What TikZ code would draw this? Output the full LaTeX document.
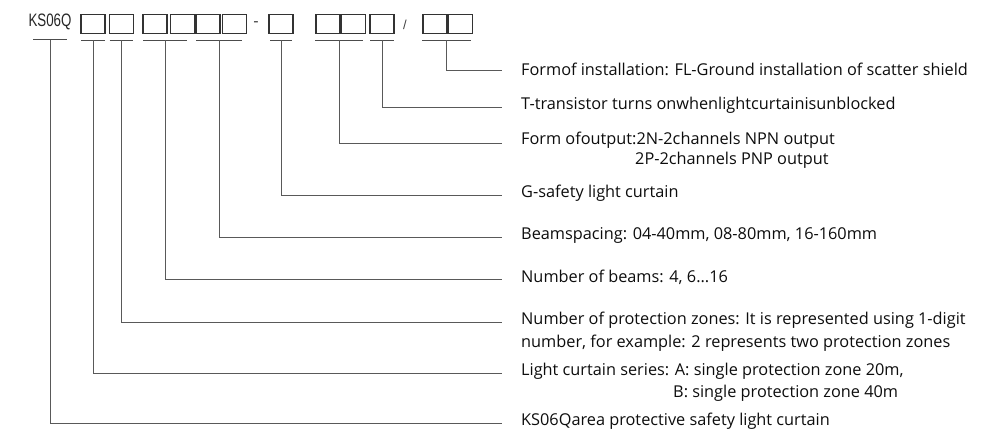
\documentclass[tikz,border=0pt]{standalone}
\usepackage{fontspec}
\setmainfont{Open Sans}
\newfontfamily\codefont{Liberation Sans}
\usetikzlibrary{positioning}

\tikzset{
  box/.style={draw=black!80,line width=1.4pt,minimum width=24pt,minimum height=19pt,inner sep=0pt},
  bar/.style={draw=black!70,line width=1pt},
  lead/.style={draw=black!65,line width=1pt},
  lab/.style={anchor=west,inner sep=0pt,text=black!95,font=\fontsize{16.3}{18}\selectfont},
}

\begin{document}
\begin{tikzpicture}[x=1pt,y=-1pt]
  \useasboundingbox (0,0) rectangle (989,436);

  % model code
  \node[inner sep=0pt,text=black!85,font=\codefont\fontsize{18}{18}\selectfont] (code) at (50,22) {\scalebox{0.74}[1]{KS06Q}};
  \node[box] (b1) at (93,24) {};
  \node[box,right=3pt of b1] (b2) {};
  \node[box] (b3) at (155,24) {};
  \node[box,right=2pt of b3] (b4) {};
  \node[box] (b5) at (208,24) {};
  \node[box,right=1pt of b5] (b6) {};
  \node[inner sep=0pt,text=black!75,font=\codefont\fontsize{16}{16}\selectfont] (dash) at (256,24) {-};
  \node[box] (b7) at (281,24) {};
  \node[box] (b8) at (328,24) {};
  \node[box,right=0pt of b8] (b9) {};
  \node[box] (b10) at (382,24) {};
  \node[inner sep=0pt,text=black!75,font=\codefont\fontsize{13}{13}\selectfont] (slash) at (405,25) {/};
  \node[box] (b11) at (435,24) {};
  \node[box,right=0pt of b11] (b12) {};

  % bars under each group
  \draw[bar] (33,40) -- coordinate[midway] (s0) (67,40);
  \draw[bar] ([xshift=1pt,yshift=-6pt]b1.south west) -- coordinate[midway] (s1) ([xshift=-1pt,yshift=-6pt]b1.south east);
  \draw[bar] ([xshift=1pt,yshift=-6pt]b2.south west) -- coordinate[midway] (s2) ([xshift=-1pt,yshift=-6pt]b2.south east);
  \draw[bar] ([xshift=1pt,yshift=-6pt]b3.south west) -- coordinate[midway] (s3) ([xshift=-8pt,yshift=-6pt]b4.south east);
  \draw[bar] ([xshift=1pt,yshift=-6pt]b5.south west) -- coordinate[midway] (s5) ([xshift=-5pt,yshift=-6pt]b6.south east);
  \draw[bar] ([xshift=2pt,yshift=-6pt]b7.south west) -- coordinate[midway] (s7) ([xshift=-2pt,yshift=-6pt]b7.south east);
  \draw[bar] ([xshift=0pt,yshift=-6pt]b8.south west) -- coordinate[midway] (s8) ([xshift=-3pt,yshift=-6pt]b9.south east);
  \draw[bar] ([xshift=1pt,yshift=-6pt]b10.south west) -- coordinate[midway] (s10) ([xshift=-1pt,yshift=-6pt]b10.south east);
  \draw[bar] ([xshift=0pt,yshift=-6pt]b11.south west) -- coordinate[midway] (s11) ([xshift=-2pt,yshift=-6pt]b12.south east);

  % labels
  \node[lab] (inst) at (521,69) {Formof installation: FL-Ground installation of scatter shield};
  \node[lab] (tran) at (521,105) {T-transistor turns onwhenlightcurtainisunblocked};
  \node[lab] (outp) at (521,140) {Form ofoutput:2N-2channels NPN output};
  \node[lab] (outq) at (635,160) {2P-2channels PNP output};
  \node[lab] (gsaf) at (521,193) {G-safety light curtain};
  \node[lab] (spac) at (521,235) {Beamspacing: 04-40mm, 08-80mm, 16-160mm};
  \node[lab] (beam) at (521,277) {Number of beams: 4, 6...16};
  \node[lab] (zone) at (521,320) {Number of protection zones: It is represented using 1-digit};
  \node[lab] (zonb) at (521,343) {number, for example: 2 represents two protection zones};
  \node[lab] (seri) at (521,371) {Light curtain series: A: single protection zone 20m,};
  \node[lab] (serb) at (673,393) {B: single protection zone 40m};
  \node[lab] (area) at (521,421) {KS06Qarea protective safety light curtain};

  % leads
  \draw[lead] (s11) |- ([xshift=-19pt,yshift=-2pt]inst.west);
  \draw[lead] (s10) |- ([xshift=-19pt,yshift=-3pt]tran.west);
  \draw[lead] (s8) |- ([xshift=-19pt,yshift=-3pt]outp.west);
  \draw[lead] (s7) |- ([xshift=-19pt,yshift=-2pt]gsaf.west);
  \draw[lead] (s5) |- ([xshift=-19pt,yshift=-2pt]spac.west);
  \draw[lead] (s3) |- ([xshift=-19pt,yshift=-2pt]beam.west);
  \draw[lead] (s2) |- ([xshift=-19pt,yshift=-2pt]zone.west);
  \draw[lead] (s1) |- ([xshift=-19pt,yshift=-2pt]seri.west);
  \draw[lead] (s0) |- ([xshift=-19pt,yshift=-2pt]area.west);
\end{tikzpicture}
\end{document}
